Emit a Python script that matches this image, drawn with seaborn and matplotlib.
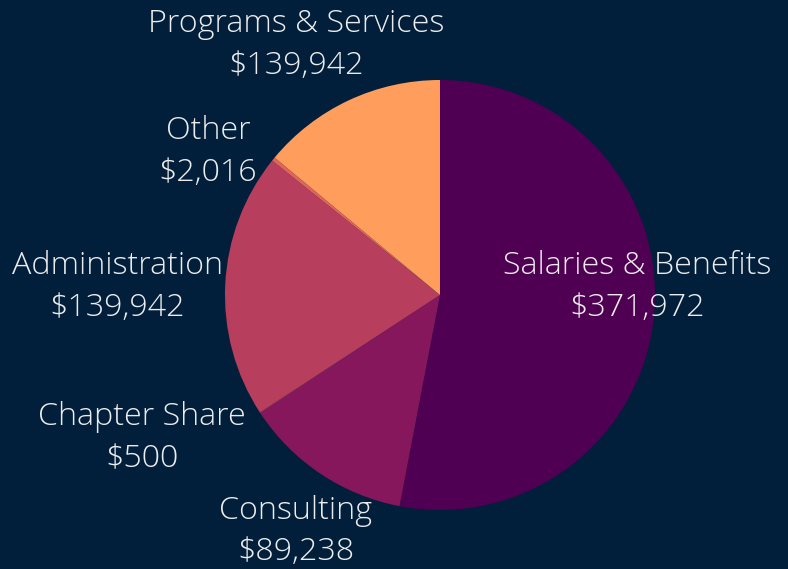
import matplotlib
matplotlib.use("Agg")
import matplotlib.pyplot as plt
import seaborn as sns

categories = ["Salaries & Benefits", "Consulting", "Chapter Share", "Administration", "Other", "Programs & Services"]
values = [371972, 89238, 500, 139942, 2016, 98000]
value_labels = ["$371,972", "$89,238", "$500", "$139,942", "$2,016", "$139,942"]
colors = ["#4f0052", "#87175d", "#a02a60", "#b83e5e", "#e0645a", "#ff9d5c"]

# label centres in data units (pie radius = 1)
label_pos = [(0.916, 0.037), (-0.67, -1.10), (-1.386, -0.665), (-1.502, 0.037), (-1.079, 0.665), (-0.67, 1.163)]

sns.set_theme(style="white")
plt.rcParams["font.family"] = ["Open Sans", "DejaVu Sans"]
bg = "#011f3b"

fig = plt.figure(figsize=(7.88, 5.69), dpi=100, facecolor=bg)
ax = fig.add_axes([0.2855, 0.1037, 0.5457, 0.7557])
ax.set_facecolor(bg)
ax.pie(values, colors=colors, startangle=90, counterclock=False, radius=1,
       wedgeprops=dict(linewidth=0))
ax.set_xlim(-1, 1)
ax.set_ylim(-1, 1)
ax.set_aspect("equal")
ax.axis("off")

for cat, vl, (x, y) in zip(categories, value_labels, label_pos):
    ax.text(x, y, f"{cat}\n{vl}", ha="center", va="center", color="#ececec",
            fontsize=23.2, fontweight="light", linespacing=1.4, clip_on=False)

fig.savefig("out.png", dpi=100, facecolor=bg)
